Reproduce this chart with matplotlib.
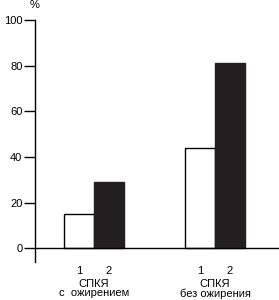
import matplotlib.pyplot as plt

plt.rcParams['font.family'] = ['Liberation Sans', 'DejaVu Sans']

groups = ["СПКЯ\nс  ожирением", "СПКЯ\nбез ожирения"]
series_labels = ["1", "2"]
values_1 = [15, 44]
values_2 = [29, 81]
yticks = [0, 20, 40, 60, 80, 100]

fig = plt.figure(figsize=(2.79, 3.0), dpi=100)
ax = fig.add_axes([35 / 279, 1 - 262 / 300, 244 / 279, 242 / 300])

width = 0.248
centers = [1, 2]
x1 = [c - width / 2 for c in centers]
x2 = [c + width / 2 for c in centers]
ax.bar(x1, values_1, width, color="white", edgecolor="black", linewidth=1)
ax.bar(x2, values_2, width, color="#231f20", edgecolor="#231f20", linewidth=1)
ax.axhline(0, color="black", linewidth=1)

ax.set_xlim(0.512, 2.529)
ax.set_ylim(-6, 100)
ax.set_yticks(yticks)
ax.tick_params(axis="y", length=8, width=1, labelsize=8, pad=1)

ax.set_xticks(x1 + x2)
ax.set_xticklabels([series_labels[0]] * 2 + [series_labels[1]] * 2)
ax.tick_params(axis="x", length=0, labelsize=8, pad=3)

for c, g in zip(centers, groups):
    ax.text(c, -13.3, g, ha="center", va="top", fontsize=8, linespacing=0.95,
            clip_on=False)

ax.text(0, 1.062, "%", transform=ax.transAxes, ha="center", va="center",
        fontsize=8)

for s in ["top", "right", "bottom"]:
    ax.spines[s].set_visible(False)
ax.spines["left"].set_linewidth(1)

fig.savefig("out.png", dpi=100)
